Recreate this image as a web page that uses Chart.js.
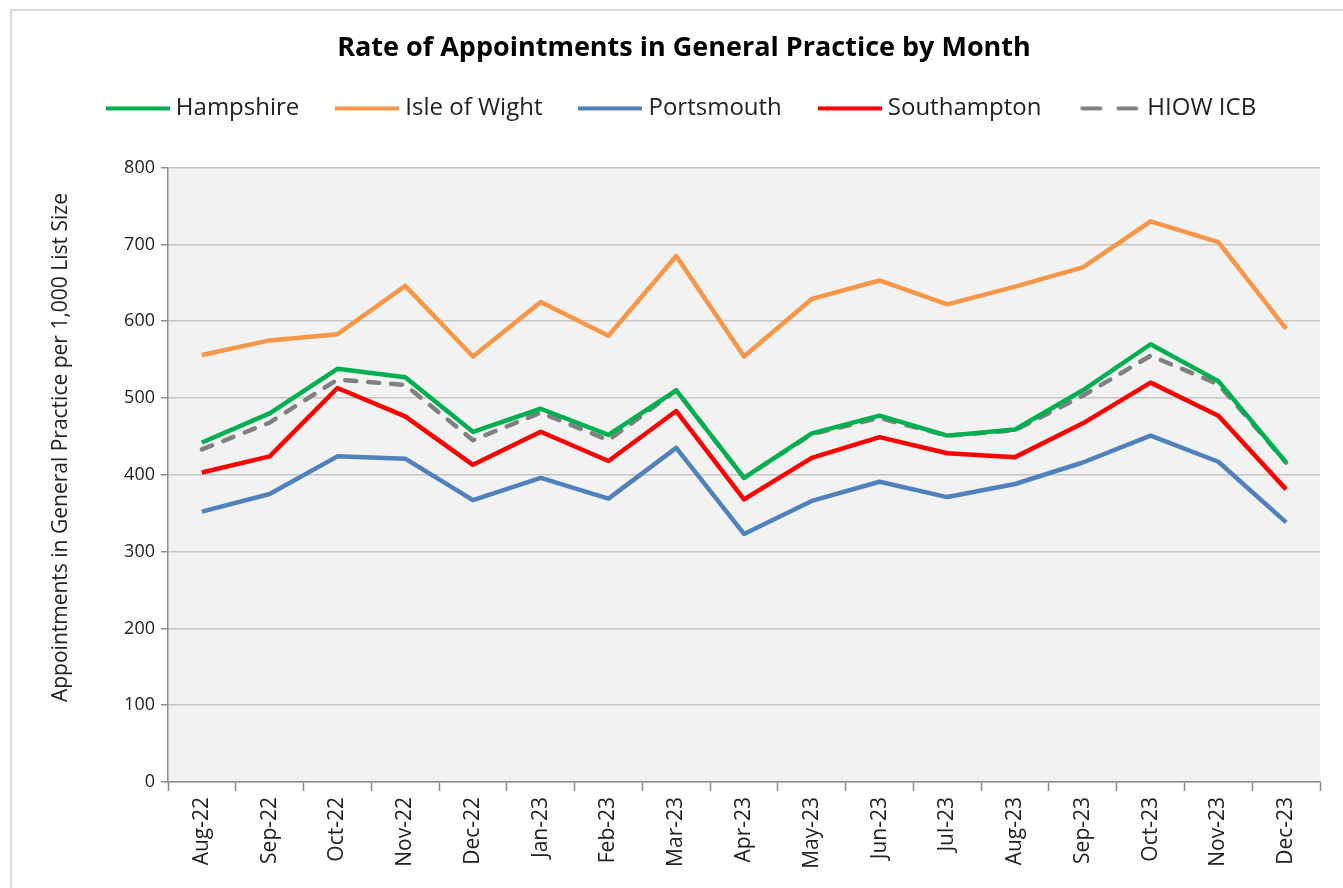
<!DOCTYPE html>
<html>
<head>
<meta charset="utf-8">
<script src="https://cdn.jsdelivr.net/npm/chart.js@4.4.1/dist/chart.umd.min.js"></script>
<style>
  html, body { margin: 0; padding: 0; background: #fff; }
  #wrap { width: 1343px; height: 888px; }
</style>
</head>
<body>
<div id="wrap"><canvas id="grafico" width="1343" height="888"></canvas></div>
<script>
const months = ["Aug-22", "Sep-22", "Oct-22", "Nov-22", "Dec-22", "Jan-23", "Feb-23", "Mar-23", "Apr-23",
  "May-23", "Jun-23", "Jul-23", "Aug-23", "Sep-23", "Oct-23", "Nov-23", "Dec-23"];

const hampshire   = [442, 480, 538, 527, 456, 486, 452, 510, 396, 454, 477, 451, 459, 510, 570, 522, 416];
const isleOfWight = [556, 575, 583, 646, 554, 625, 581, 685, 554, 629, 653, 622, 645, 670, 730, 703, 590];
const portsmouth  = [352, 375, 424, 421, 367, 396, 369, 435, 323, 366, 391, 371, 388, 416, 451, 417, 338];
const southampton = [403, 424, 513, 476, 413, 456, 418, 483, 368, 422, 449, 428, 423, 467, 520, 477, 381];
const hiowIcb     = [433, 468, 524, 517, 445, 481, 445, 510, 396, 453, 474, 451, 458, 503, 555, 518, 416];

const yTicks = [0, 100, 200, 300, 400, 500, 600, 700, 800];

const FONT = "'Open Sans', 'DejaVu Sans', sans-serif";
const DASH = [11, 12];

// small canvas used as the legend symbol (line / dashed line)
function legendIcon(color, dash) {
  const c = document.createElement("canvas");
  c.width = 64;
  c.height = 6;
  const g = c.getContext("2d");
  g.strokeStyle = color;
  g.lineWidth = 4;
  g.lineCap = dash ? "round" : "butt";
  if (dash) g.setLineDash([18, 18]);
  g.beginPath();
  g.moveTo(dash ? 5 : 0, 3);
  g.lineTo(dash ? 60 : 64, 3);
  g.stroke();
  return c;
}

function serie(label, data, color, dash) {
  return {
    label: label,
    data: data,
    borderColor: color,
    backgroundColor: color,
    borderWidth: 4.5,
    borderDash: dash ? DASH : [],
    borderCapStyle: dash ? "round" : "butt",
    borderJoinStyle: "round",
    pointRadius: 0,
    pointHoverRadius: 0,
    tension: 0,
    icon: legendIcon(color, dash)
  };
}

const moldura = {
  id: "moldura",
  beforeDraw(chart) {
    const { ctx, chartArea } = chart;
    ctx.save();
    ctx.strokeStyle = "#d9d9d9";
    ctx.lineWidth = 2;
    ctx.beginPath();
    ctx.moveTo(11, chart.height);
    ctx.lineTo(11, 10);
    ctx.lineTo(chart.width, 10);
    ctx.stroke();
    ctx.fillStyle = "#f2f2f2";
    ctx.fillRect(chartArea.left, chartArea.top, chartArea.right - chartArea.left, chartArea.bottom - chartArea.top);
    ctx.restore();
  }
};

const ctx = document.getElementById("grafico").getContext("2d");
new Chart(ctx, {
  type: "line",
  data: {
    labels: months,
    datasets: [
      serie("Hampshire", hampshire, "#00b050", false),
      serie("Isle of Wight", isleOfWight, "#f79646", false),
      serie("Portsmouth", portsmouth, "#4f81bd", false),
      serie("Southampton", southampton, "#ff0000", false),
      serie("HIOW ICB", hiowIcb, "#808080", true)
    ]
  },
  options: {
    responsive: false,
    animation: false,
    events: [],
    layout: { padding: { left: 48, right: 23, top: 10, bottom: 0 } },
    plugins: {
      title: {
        display: true,
        text: "Rate of Appointments in General Practice by Month",
        color: "#000",
        font: { family: FONT, size: 27, weight: "bold" },
        padding: { top: 22, bottom: -10 }
      },
      subtitle: {
        // empty spacer between the legend and the plot
        display: true,
        text: "",
        weight: 500,
        font: { size: 1 },
        padding: { top: 36, bottom: 0 }
      },
      legend: {
        display: true,
        position: "top",
        labels: {
          usePointStyle: true,
          pointStyleWidth: 52,
          padding: 42,
          color: "#222",
          font: { family: FONT, size: 24 },
          generateLabels(chart) {
            const items = Chart.defaults.plugins.legend.labels.generateLabels(chart);
            items.forEach((it, i) => { it.pointStyle = chart.data.datasets[i].icon; });
            return items;
          }
        }
      },
      tooltip: { enabled: false }
    },
    scales: {
      x: {
        type: "category",
        offset: true,
        afterFit(scale) { scale.height = 106; },
        grid: {
          offset: true,
          drawOnChartArea: false,
          drawTicks: true,
          tickLength: 9,
          tickColor: "#8c8c8c",
          tickWidth: 1.5
        },
        border: { color: "#8c8c8c", width: 1.5 },
        ticks: {
          autoSkip: false,
          minRotation: 90,
          maxRotation: 90,
          padding: 6,
          color: "#222",
          font: { family: FONT, size: 21 }
        }
      },
      y: {
        min: 0,
        max: 800,
        afterFit(scale) { scale.width = 120; },
        afterBuildTicks(scale) { scale.ticks = yTicks.map(v => ({ value: v })); },
        grid: {
          color: "#c6c6c6",
          lineWidth: 1.5,
          drawTicks: true,
          tickLength: 7,
          tickColor: "#8c8c8c",
          tickWidth: 1.5
        },
        border: { color: "#8c8c8c", width: 1.5 },
        ticks: {
          padding: 6,
          color: "#222",
          font: { family: FONT, size: 18 }
        },
        title: {
          display: true,
          // leading spaces push the centred text up the axis, as in the original
          text: "          Appointments in General Practice per 1,000 List Size",
          color: "#222",
          font: { family: FONT, size: 21 },
          padding: { top: 0, bottom: 0 }
        }
      }
    }
  },
  plugins: [moldura]
});
</script>
</body>
</html>
